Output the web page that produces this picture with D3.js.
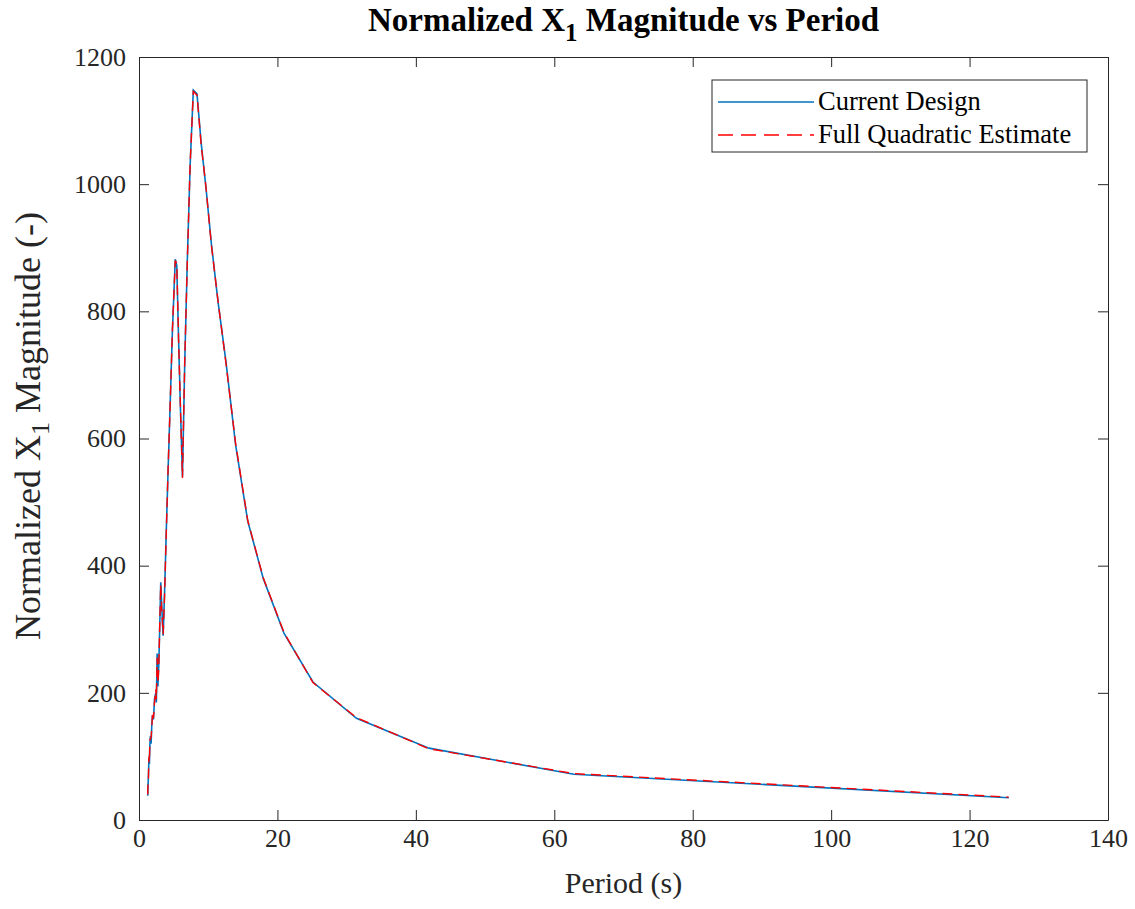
<!DOCTYPE html>
<html>
<head>
<meta charset="utf-8">
<script src="https://cdn.jsdelivr.net/npm/d3@7"></script>
<style>
  body { margin: 0; background: #fff; }
  text { font-family: "Liberation Serif", "Times New Roman", serif; fill: #262626; }
  .axis path, .axis line { stroke: #262626; }
</style>
</head>
<body>
<div id="chart"></div>
<script>
// Period (s) shared by both series
var periods = [1.26, 1.31, 1.37, 1.43, 1.50, 1.57, 1.65, 1.75, 1.85, 1.96, 2.09, 2.24, 2.42, 2.51, 2.62,
  2.73, 2.86, 2.99, 3.14, 3.31, 3.49, 3.70, 3.93, 4.19, 4.49, 4.83, 5.24, 5.46, 5.71, 5.98, 6.28,
  6.61, 6.98, 7.39, 7.85, 8.38, 8.98, 9.67, 10.47, 11.42, 12.57, 13.96, 15.71, 17.95, 20.94, 25.13,
  31.42, 41.89, 62.83, 125.66];

var currentDesign = [38, 55, 72, 95, 88, 118, 132, 120, 150, 165, 158, 190, 200, 185, 262,
  210, 245, 300, 374, 330, 290, 360, 450, 545, 650, 770, 882, 872, 760, 650, 540,
  720, 880, 1030, 1148, 1142, 1065, 995, 905, 815, 720, 590, 470, 380, 294, 217,
  160, 113, 72, 35];

var quadEstimate = [40, 60, 68, 100, 92, 125, 128, 130, 145, 170, 160, 185, 205, 190, 255,
  215, 240, 305, 370, 325, 292, 355, 448, 548, 648, 772, 880, 875, 758, 652, 538,
  722, 878, 1032, 1146, 1140, 1062, 996, 903, 816, 718, 592, 471, 381, 295, 216,
  161, 112, 73, 36];

var seriesNames = ["Current Design", "Full Quadratic Estimate"];
var xTicks = [0, 20, 40, 60, 80, 100, 120, 140];
var yTicks = [0, 200, 400, 600, 800, 1000, 1200];

var svgWidth = 1135;
var svgHeight = 909;

var margin = { top: 57, right: 27, bottom: 89, left: 139 };
var width = svgWidth - margin.left - margin.right;
var height = svgHeight - margin.top - margin.bottom;

var svg = d3.select("#chart")
  .append("svg")
  .attr("width", svgWidth)
  .attr("height", svgHeight);

var chartGroup = svg.append("g")
  .attr("transform", `translate(${margin.left}, ${margin.top})`);

var xScale = d3.scaleLinear().domain([0, 140]).range([0, width]);
var yScale = d3.scaleLinear().domain([0, 1200]).range([height, 0]);

// axes, ticks pointing inward like matlab
chartGroup.append("g")
  .attr("class", "axis")
  .attr("transform", `translate(0, ${height})`)
  .call(d3.axisBottom(xScale).tickValues(xTicks).tickFormat(d3.format("d"))
    .tickSizeInner(-10).tickSizeOuter(0).tickPadding(9))
  .selectAll("text").style("font-size", "26px");

chartGroup.append("g")
  .attr("class", "axis")
  .call(d3.axisLeft(yScale).tickValues(yTicks).tickFormat(d3.format("d"))
    .tickSizeInner(-10).tickSizeOuter(0).tickPadding(13))
  .selectAll("text").style("font-size", "26px");

chartGroup.append("g")
  .attr("class", "axis")
  .call(d3.axisTop(xScale).tickValues(xTicks).tickSizeInner(-10).tickSizeOuter(0).tickFormat(""));

chartGroup.append("g")
  .attr("class", "axis")
  .attr("transform", `translate(${width}, 0)`)
  .call(d3.axisRight(yScale).tickValues(yTicks).tickSizeInner(-10).tickSizeOuter(0).tickFormat(""));

chartGroup.selectAll(".axis text").attr("font-family", null);

// lines
var line = d3.line()
  .x(function(d) { return xScale(d[0]); })
  .y(function(d) { return yScale(d[1]); });

chartGroup.append("path")
  .datum(d3.zip(periods, currentDesign))
  .attr("fill", "none")
  .attr("stroke", "#0072BD")
  .attr("stroke-width", 1.6)
  .attr("d", line);

chartGroup.append("path")
  .datum(d3.zip(periods, quadEstimate))
  .attr("fill", "none")
  .attr("stroke", "#FF0000")
  .attr("stroke-width", 1.4)
  .attr("stroke-dasharray", "10,6")
  .attr("d", line);

// title
var title = svg.append("text")
  .attr("x", margin.left + width / 2)
  .attr("y", 31)
  .attr("text-anchor", "middle")
  .style("font-size", "33px")
  .style("font-weight", "bold")
  .style("fill", "#000");
title.append("tspan").text("Normalized X");
title.append("tspan").attr("dy", 10).style("font-size", "25px").text("1");
title.append("tspan").attr("dy", -10).text(" Magnitude vs Period");

// axis labels
svg.append("text")
  .attr("x", margin.left + width / 2)
  .attr("y", 893)
  .attr("text-anchor", "middle")
  .style("font-size", "30px")
  .text("Period (s)");

var yLabel = svg.append("text")
  .attr("transform", `translate(40, 426) rotate(-90)`)
  .attr("text-anchor", "middle")
  .style("font-size", "36px");
yLabel.append("tspan").text("Normalized X");
yLabel.append("tspan").attr("dy", 9).style("font-size", "26px").text("1");
yLabel.append("tspan").attr("dy", -9).text(" Magnitude (-)");

// legend
var legend = svg.append("g").attr("transform", "translate(712, 80)");
legend.append("rect")
  .attr("width", 375)
  .attr("height", 72)
  .attr("fill", "#fff")
  .attr("stroke", "#262626")
  .attr("stroke-width", 1);

var legendStyles = [
  { color: "#0072BD", dash: null },
  { color: "#FF0000", dash: "15,8" }
];

seriesNames.forEach(function(name, i) {
  var yPos = 22 + i * 33;
  legend.append("line")
    .attr("x1", 6).attr("x2", 102)
    .attr("y1", yPos).attr("y2", yPos)
    .attr("stroke", legendStyles[i].color)
    .attr("stroke-width", 1.5)
    .attr("stroke-dasharray", legendStyles[i].dash);
  legend.append("text")
    .attr("x", 106)
    .attr("y", yPos + 8)
    .style("font-size", "26.5px")
    .style("fill", "#000")
    .text(name);
});
</script>
</body>
</html>
